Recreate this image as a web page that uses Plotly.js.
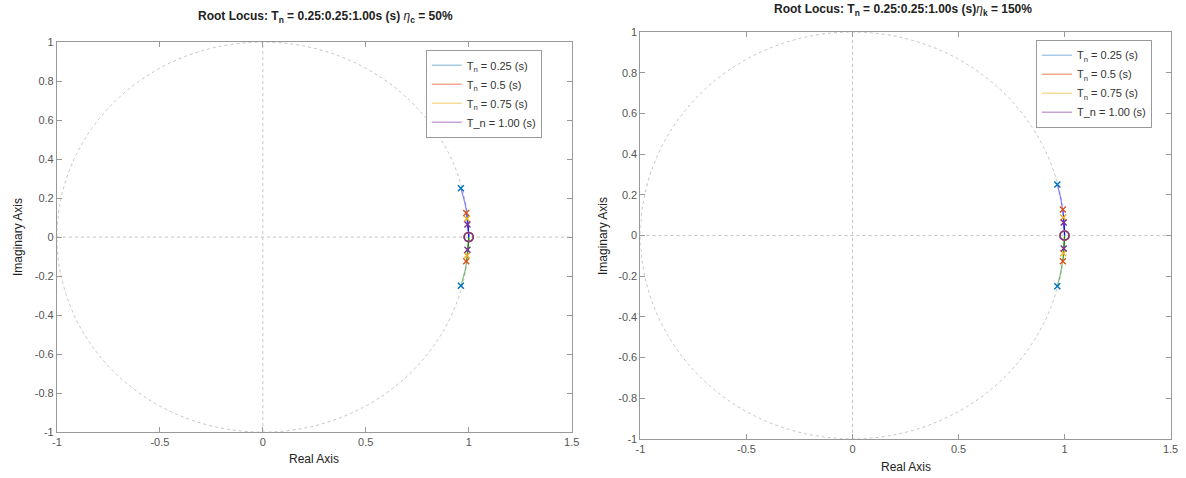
<!DOCTYPE html>
<html><head><meta charset="utf-8">
<script src="https://cdn.plot.ly/plotly-3.0.1.min.js"></script>
<style>html,body{margin:0;padding:0;background:#fff}#chart{width:1186px;height:478px}</style>
</head><body><div id="chart"></div>
<script>
// ---- data ----
const seriesNames = ['T<sub>n</sub> = 0.25 (s)', 'T<sub>n</sub> = 0.5 (s)', 'T<sub>n</sub> = 0.75 (s)', 'T_n = 1.00 (s)'];
const polesReLeft  = [0.962, 0.988, 0.991, 0.994];
const polesImLeft  = [0.250, 0.124, 0.094, 0.065];
const polesReRight = [0.966, 0.992, 0.994, 0.996];
const polesImRight = [0.250, 0.127, 0.088, 0.064];
const zeroRe = 1.0;
const zeroIm = 0.0;
const gainSteps = [0, 0.02, 0.05, 0.1, 0.2, 0.35, 0.5, 0.75, 1, 1.5, 2, 3, 5, 8, 15, 30, 80, 300, 2000, 1e5];
const titleLeft  = '<b>Root Locus: T<sub>n</sub> = 0.25:0.25:1.00s (s)</b> <i>η</i><b><sub>c</sub> = 50%</b>';
const titleRight = '<b>Root Locus: T<sub>n</sub> = 0.25:0.25:1.00s (s)</b><i>η</i><b><sub>k</sub> = 150%</b>';
const xTickVals = [-1, -0.5, 0, 0.5, 1, 1.5];
const xTickText = ['-1', '-0.5', '0', '0.5', '1', '1.5'];
const yTickVals = [-1, -0.8, -0.6, -0.4, -0.2, 0, 0.2, 0.4, 0.6, 0.8, 1];
const yTickText = ['-1', '-0.8', '-0.6', '-0.4', '-0.2', '0', '0.2', '0.4', '0.6', '0.8', '1'];

// ---- styles ----
const markColors  = ['#0072BD', '#D95319', '#EDB120', '#7E2F8E'];
const legendColors = ['#a9cbe6', '#f1a88e', '#f5dc9e', '#c6a2d6'];
const FONT = '"Liberation Sans", Arial, Helvetica, sans-serif';

// closed-loop roots of (z-p)(z-conj p) + K (z-zero)^2 = 0
function branch(a, b, sign) {
  const xs = [], ys = [];
  gainSteps.forEach(K => {
    const c = (zeroRe - a) * (zeroRe - a) + b * b;
    xs.push((a + K * zeroRe) / (1 + K));
    ys.push(sign * Math.sqrt(b * b + K * c) / (1 + K));
  });
  return {xs, ys};
}

const traces = [];
function addPlot(re, im, xa, ya, legendName) {
  for (let i = 0; i < re.length; i++) {
    const up = branch(re[i], im[i], 1), dn = branch(re[i], im[i], -1);
    traces.push({x: up.xs, y: up.ys, xaxis: xa, yaxis: ya, mode: 'lines', showlegend: false, hoverinfo: 'skip',
      line: {color: 'rgb(0,0,255)', width: 1.2}, opacity: 0.5});
    traces.push({x: dn.xs, y: dn.ys, xaxis: xa, yaxis: ya, mode: 'lines', showlegend: false, hoverinfo: 'skip',
      line: {color: 'rgb(0,128,0)', width: 1.2}, opacity: 0.5});
  }
  for (let i = 0; i < re.length; i++) {
    traces.push({x: [re[i], re[i]], y: [im[i], -im[i]], xaxis: xa, yaxis: ya, mode: 'markers', showlegend: false,
      marker: {symbol: 'x-thin', size: 6, line: {color: markColors[i], width: 1.4}}});
    traces.push({x: [zeroRe], y: [zeroIm], xaxis: xa, yaxis: ya, mode: 'markers', showlegend: false,
      marker: {symbol: 'circle-open', size: 9, color: markColors[i], line: {color: markColors[i], width: 1.5}}});
  }
  for (let i = 0; i < seriesNames.length; i++) {
    traces.push({x: [null], y: [null], xaxis: xa, yaxis: ya, mode: 'lines', name: seriesNames[i], legend: legendName,
      line: {color: legendColors[i], width: 1.5}});
  }
}
addPlot(polesReLeft, polesImLeft, 'x', 'y', 'legend');
addPlot(polesReRight, polesImRight, 'x2', 'y2', 'legend2');

function xAxis(domain, anchor) {
  return {domain, anchor, range: [-1, 1.5], tickvals: xTickVals, ticktext: xTickText, ticks: 'inside', ticklen: 5,
    tickcolor: '#999', showline: true, linecolor: '#999', linewidth: 1, mirror: 'ticks', showgrid: false, zeroline: false,
    tickfont: {family: FONT, size: 11, color: '#555'}, fixedrange: true};
}
function yAxis(domain, anchor) {
  return {domain, anchor, range: [-1, 1], tickvals: yTickVals, ticktext: yTickText, ticks: 'inside', ticklen: 5,
    tickcolor: '#999', showline: true, linecolor: '#999', linewidth: 1, mirror: 'ticks', showgrid: false, zeroline: false,
    tickfont: {family: FONT, size: 11, color: '#555'}, fixedrange: true};
}

function guideShapes(xr, yr) {
  const st = {color: '#c4c4c4', width: 1, dash: 'dot'};
  return [
    {type: 'circle', xref: xr, yref: yr, x0: -1, x1: 1, y0: -1, y1: 1, line: st, layer: 'below'},
    {type: 'line', xref: xr, yref: yr, x0: -1, x1: 1.5, y0: 0, y1: 0, line: st, layer: 'below'},
    {type: 'line', xref: xr, yref: yr, x0: 0, x1: 0, y0: -1, y1: 1, line: st, layer: 'below'}
  ];
}

const legendStyle = {bgcolor: '#fff', bordercolor: '#999', borderwidth: 1, font: {family: FONT, size: 11, color: '#333'},
  xanchor: 'left', yanchor: 'top', tracegroupgap: 0};

function ann(text, px, py, extra) {
  return Object.assign({text, xref: 'paper', yref: 'paper', x: px / 1186, y: 1 - py / 478, xanchor: 'center', yanchor: 'middle',
    showarrow: false, font: {family: FONT, size: 12, color: '#222'}}, extra || {});
}

const layout = {
  width: 1186, height: 478, margin: {l: 0, r: 0, t: 0, b: 0}, paper_bgcolor: '#fff', plot_bgcolor: '#fff',
  font: {family: FONT, color: '#333'},
  xaxis: xAxis([0.048, 0.482], 'y'), yaxis: yAxis([0.096, 0.912], 'x'),
  xaxis2: xAxis([0.540, 0.987], 'y2'), yaxis2: yAxis([0.082, 0.933], 'x2'),
  legend: Object.assign({x: 0.359, y: 0.896}, legendStyle),
  legend2: Object.assign({x: 0.8735, y: 0.917}, legendStyle),
  shapes: guideShapes('x', 'y').concat(guideShapes('x2', 'y2')),
  annotations: [
    ann(titleLeft, 325, 17),
    ann(titleRight, 903, 10),
    ann('Real Axis', 314, 459),
    ann('Real Axis', 906, 467),
    ann('Imaginary Axis', 18, 237, {textangle: -90}),
    ann('Imaginary Axis', 603, 236, {textangle: -90})
  ]
};

Plotly.newPlot('chart', traces, layout, {displayModeBar: false, staticPlot: true});
</script></body></html>
